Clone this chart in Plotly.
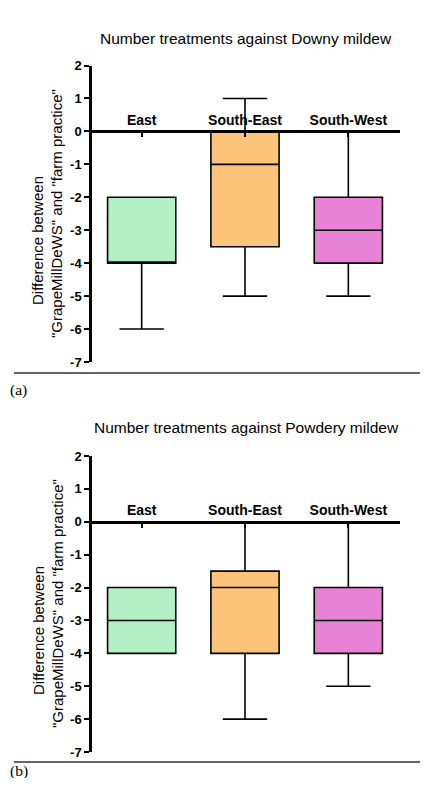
import plotly.graph_objects as go

categories = ["East", "South-East", "South-West"]
colors = ["#b4f0c6", "#fcc47a", "#e882d6"]

# Downy mildew (a)
downy_min = [-6, -5, -5]
downy_q1 = [-4, -3.5, -4]
downy_med = [-4, -1, -3]
downy_q3 = [-2, 0, -2]
downy_max = [-2, 1, 0]

# Powdery mildew (b)
powdery_min = [-4, -6, -5]
powdery_q1 = [-4, -4, -4]
powdery_med = [-3, -2, -3]
powdery_q3 = [-2, -1.5, -2]
powdery_max = [-2, 0, 0]

titles = ["Number treatments against Downy mildew", "Number treatments against Powdery mildew"]
panel_labels = ["(a)", "(b)"]
ytitle_lines = ["Difference between", "\"GrapeMillDeWS\" and \"farm practice\""]
yticks = [2, 1, 0, -1, -2, -3, -4, -5, -6, -7]
ytick_text = [str(v) for v in yticks]

# page has an 8px body margin; figure is sized so the page is exactly 428x786
OFF = 8
W, H = 428 - OFF, 786 - 2 * OFF

def px(x):
    return (x - OFF) / W

def py(y):
    return 1 - (y - OFF) / H

xdom = [px(90), px(400)]
ydoms = [[py(362), py(65.5)], [py(752), py(456)]]

fig = go.Figure()
panels = [
    (downy_min, downy_q1, downy_med, downy_q3, downy_max),
    (powdery_min, powdery_q1, powdery_med, powdery_q3, powdery_max),
]
for p, (mn, q1, md, q3, mx) in enumerate(panels):
    xa = "x" if p == 0 else "x2"
    ya = "y" if p == 0 else "y2"
    for i, c in enumerate(categories):
        fig.add_trace(go.Box(
            x=[c], q1=[q1[i]], median=[md[i]], q3=[q3[i]],
            lowerfence=[mn[i]], upperfence=[mx[i]],
            fillcolor=colors[i], line=dict(color="black", width=1.6),
            width=0.66, whiskerwidth=0.65, boxpoints=False,
            xaxis=xa, yaxis=ya, showlegend=False, hoverinfo="skip",
        ))

for p in range(2):
    sfx = "" if p == 0 else "2"
    d = ydoms[p]
    zero_pos = d[0] + 7 / 9 * (d[1] - d[0])
    fig.layout["xaxis" + sfx] = dict(
        domain=xdom, anchor="free", position=zero_pos, side="top",
        type="category", categoryorder="array", categoryarray=categories,
        range=[-0.5, 2.5], showline=True, linecolor="black", linewidth=2.5,
        ticks="inside", ticklen=4, tickwidth=2, tickcolor="black",
        tickfont=dict(family="Arial, Liberation Sans", size=14, color="black", weight="bold"),
        showgrid=False, zeroline=False, fixedrange=True,
    )
    fig.layout["yaxis" + sfx] = dict(
        domain=d, anchor="free", position=xdom[0], range=[-7, 2],
        tickvals=yticks, ticktext=ytick_text,
        showline=True, linecolor="black", linewidth=2.5,
        ticks="outside", ticklen=5, tickwidth=2, tickcolor="black",
        tickfont=dict(family="Arial, Liberation Sans", size=13, color="black", weight="bold"),
        showgrid=False, zeroline=False, fixedrange=True, automargin=False,
    )

annotations = []
shapes = []
title_y = [38, 427]
sep_y = [373, 762]
lab_y = [390, 771]
ytitle_y = [(241, 214), (631, 604)]
for p in range(2):
    annotations.append(dict(text=titles[p], x=px(246), y=py(title_y[p]), xref="paper", yref="paper",
                            showarrow=False, xanchor="center", yanchor="middle",
                            font=dict(family="Arial, Liberation Sans", size=15.5, color="black")))
    annotations.append(dict(text=panel_labels[p], x=0, y=py(lab_y[p]), xref="paper", yref="paper",
                            showarrow=False, xanchor="left", yanchor="middle",
                            font=dict(family="Liberation Serif, Times New Roman", size=15.5, color="black")))
    for j, (lx, line) in enumerate(zip([38, 57], ytitle_lines)):
        annotations.append(dict(text=line, x=px(lx), y=py(ytitle_y[p][j]), xref="paper", yref="paper",
                                showarrow=False, textangle=-90, xanchor="center", yanchor="middle",
                                font=dict(family="Arial, Liberation Sans", size=15, color="black")))
    shapes.append(dict(type="line", xref="paper", yref="paper", x0=px(14), x1=1, y0=py(sep_y[p]), y1=py(sep_y[p]),
                       line=dict(color="#333333", width=1.5)))

fig.update_layout(
    width=W, height=H, margin=dict(l=0, r=0, t=0, b=0),
    paper_bgcolor="white", plot_bgcolor="white",
    annotations=annotations, shapes=shapes, boxmode="overlay",
)
fig.write_html("out.html")
